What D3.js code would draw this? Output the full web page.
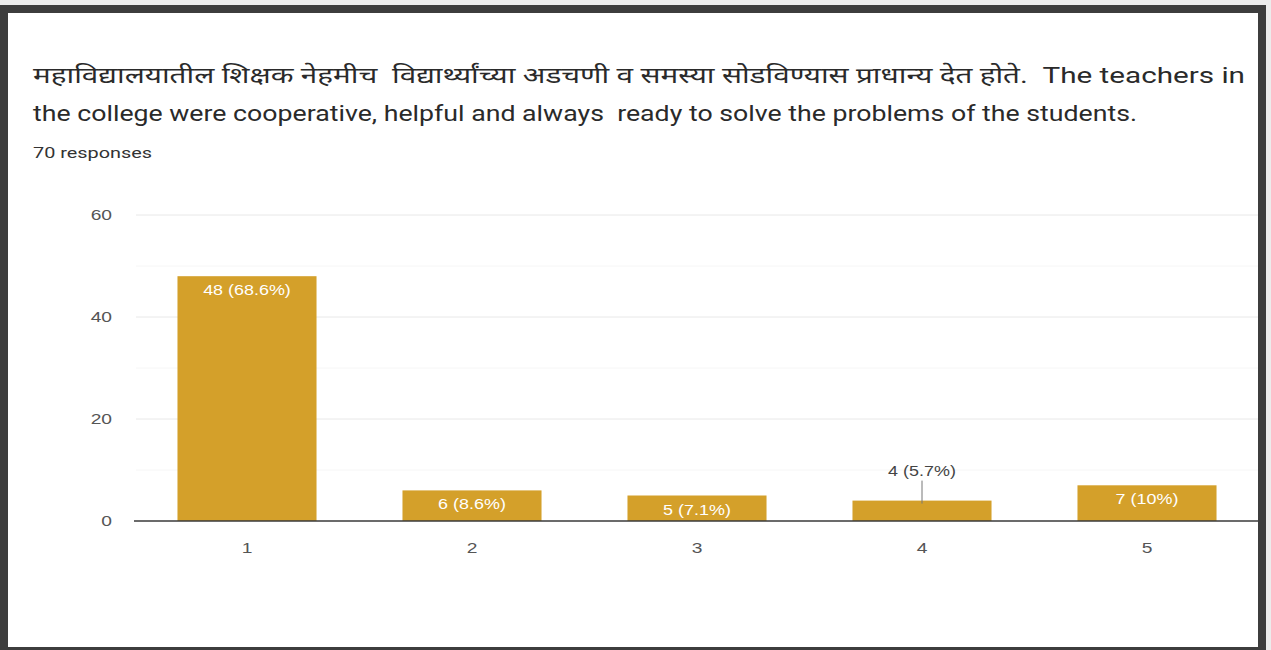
<!DOCTYPE html>
<html><head><meta charset="utf-8">
<script src="https://cdn.jsdelivr.net/npm/d3@7"></script>
<style>
html,body{margin:0;padding:0;background:#e9e9e9;}
svg{display:block;}
</style></head>
<body>
<svg id="chart" width="1271" height="650"></svg>
<script>
const categories = ["1","2","3","4","5"];
const counts = [48, 6, 5, 4, 7];
const percents = ["68.6%","8.6%","7.1%","5.7%","10%"];
const yTicks = [0, 20, 40, 60];
const yMinorTicks = [10, 30, 50];
const titleLine1 = "महाविद्यालयातील शिक्षक नेहमीच  विद्यार्थ्यांच्या अडचणी व समस्या सोडविण्यास प्राधान्य देत होते.  The teachers in";
const titleLine2 = "the college were cooperative, helpful and always  ready to solve the problems of the students.";
const subtitle = "70 responses";

const svg = d3.select("#chart");
const font = "Roboto, 'Noto Sans', Arial, sans-serif";
const chartFont = "'Liberation Sans', Arial, sans-serif";
const stretch = 1.28;

// stretch a text element horizontally (the source image is widened)
function widen(sel, target) {
  sel.each(function(){
    const w = this.getComputedTextLength();
    d3.select(this).attr("textLength", target || w*stretch).attr("lengthAdjust","spacingAndGlyphs");
  });
}

// frame
svg.append("rect").attr("x",0).attr("y",0).attr("width",1271).attr("height",650).attr("fill","#ececec");
svg.append("rect").attr("x",0).attr("y",5).attr("width",1266).attr("height",650).attr("fill","#3d3d3d");
svg.append("rect").attr("x",8).attr("y",13).attr("width",1250).attr("height",634).attr("fill","#ffffff");

const clip = svg.append("defs").append("clipPath").attr("id","inner");
clip.append("rect").attr("x",8).attr("y",13).attr("width",1250).attr("height",634);
const g = svg.append("g").attr("clip-path","url(#inner)");

// titles
g.append("text").attr("x",33).attr("y",83).attr("font-family",font).attr("font-size",22)
  .attr("fill","#2a2a2a").style("white-space","pre").text(titleLine1).call(widen, 1212);
g.append("text").attr("x",33).attr("y",121).attr("font-family",font).attr("font-size",22)
  .attr("fill","#2a2a2a").style("white-space","pre").text(titleLine2).call(widen, 1104);
g.append("text").attr("x",33).attr("y",158).attr("font-family",font).attr("font-size",14.5)
  .attr("fill","#333").text(subtitle).call(widen, 119);

const x = d3.scaleBand().domain(categories).range([134.5, 1259.5]).paddingInner(0.382).paddingOuter(0.191);
const y = d3.scaleLinear().domain([0, 60]).range([521, 215]);

// minor gridlines
g.selectAll(".minor").data(yMinorTicks).enter().append("line")
  .attr("x1",136).attr("x2",1262).attr("y1",d=>y(d)).attr("y2",d=>y(d))
  .attr("stroke","#f6f6f6").attr("stroke-width",1);
// major gridlines
g.selectAll(".major").data(yTicks.filter(d=>d>0)).enter().append("line")
  .attr("x1",136).attr("x2",1262).attr("y1",d=>y(d)).attr("y2",d=>y(d))
  .attr("stroke","#e8e8e8").attr("stroke-width",1);

// y axis labels
const yAxis = d3.axisLeft(y).tickValues(yTicks).tickSize(0).tickPadding(0);
const ya = g.append("g").attr("transform","translate(112,0)").call(yAxis);
ya.select(".domain").remove();
ya.selectAll("text").attr("font-family",chartFont).attr("font-size",15).attr("fill","#555").call(widen);

// bars
const data = categories.map((c,i)=>({c, v:counts[i], p:percents[i]}));
g.selectAll(".bar").data(data).enter().append("rect")
  .attr("x",d=>x(d.c)).attr("width",x.bandwidth())
  .attr("y",d=>y(d.v)).attr("height",d=>y(0)-y(d.v))
  .attr("fill","#d4a02a");

// baseline
g.append("line").attr("x1",134).attr("x2",1262).attr("y1",y(0)).attr("y2",y(0))
  .attr("stroke","#3a3a3a").attr("stroke-width",1.5);

// x axis labels
const xAxis = d3.axisBottom(x).tickSize(0).tickPadding(0);
const xa = g.append("g").attr("transform",`translate(0,${y(0)+27})`).call(xAxis);
xa.select(".domain").remove();
xa.selectAll("text").attr("font-family",chartFont).attr("font-size",15).attr("fill","#555").attr("dy","0.35em").call(widen);

// value labels
data.forEach(d=>{
  const cx = x(d.c) + x.bandwidth()/2;
  const label = `${d.v} (${d.p})`;
  if (d.c === "4") {
    g.append("line").attr("x1",cx).attr("x2",cx).attr("y1",y(d.v)-20).attr("y2",y(d.v)+3)
      .attr("stroke","#777").attr("stroke-width",1);
    g.append("text").attr("x",cx).attr("y",y(d.v)-25).attr("text-anchor","middle")
      .attr("font-family",chartFont).attr("font-size",14).attr("fill","#444").text(label).call(widen);
  } else {
    g.append("text").attr("x",cx).attr("y",y(d.v)+19).attr("text-anchor","middle")
      .attr("font-family",chartFont).attr("font-size",14).attr("fill","#ffffff").text(label).call(widen);
  }
});
</script>
</body></html>
